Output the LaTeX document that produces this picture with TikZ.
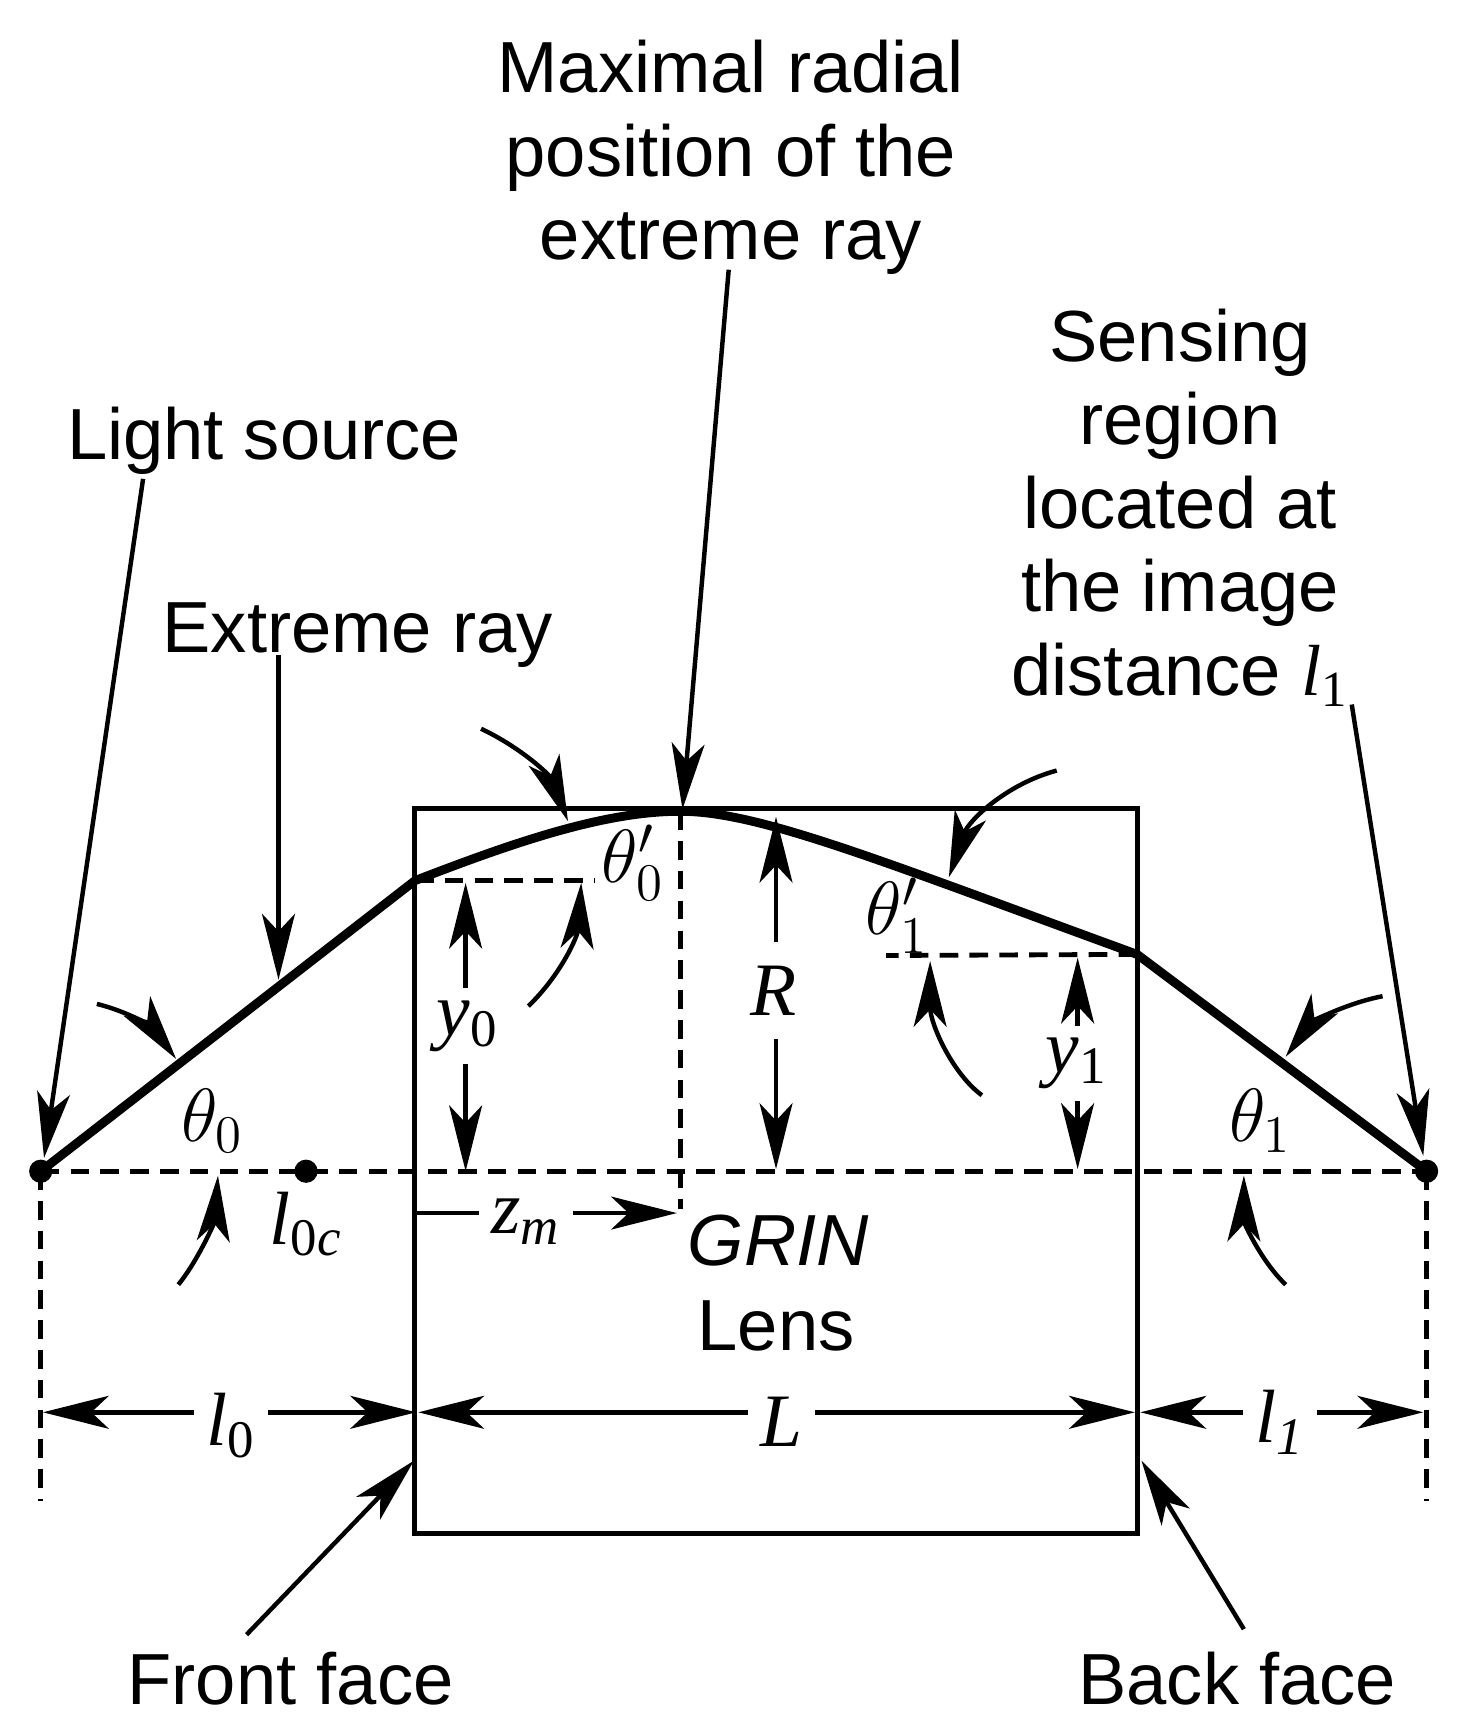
\documentclass[tikz,border=0pt]{standalone}
\usepackage{fix-cm}
\usepackage{fontspec}
\setmainfont{Liberation Sans}
\newfontfamily\symfont{Liberation Serif}
\newcommand{\lensym}[2]{{\symfont\itshape #1}\textsubscript{\symfont #2}}
\usetikzlibrary{arrows.meta}

\begin{document}
\begin{tikzpicture}[x=0.01cm,y=-0.01cm,
	label_node/.style={font=\fontsize{18.7}{21.6}\selectfont,align=center,inner sep=0pt},
	math_node/.style={font=\fontsize{19.5}{22}\selectfont,inner sep=3pt},
	dot_node/.style={circle,fill=black,minimum size=6pt,inner sep=0pt},
	thin_line/.style={line width=1.15pt},
	dash_line/.style={line width=1.25pt,dash pattern=on 4.8pt off 2.9pt},
	tip_arrow/.style={line width=1.15pt,-{Stealth[length=17pt,width=8.5pt,inset=4.5pt]}}]

		\useasboundingbox (0,0) rectangle (1337,1568);

		% lens
		\node[draw,line width=1.35pt,inner sep=0pt,minimum width=6.56cm,minimum height=6.58cm] (lens) at (705,1064) {};

		\node[dot_node] (source) at (37,1064) {};
		\node[dot_node] (focus) at (278,1064) {};
		\node[dot_node] (image) at (1296,1064) {};

		\coordinate (entry) at (377,800);
		\coordinate (peak) at (618,737);
		\coordinate (exit) at (1033,867);
		\coordinate (peak_foot) at (618,1098);
		\coordinate (source_foot) at (37,1364);
		\coordinate (image_foot) at (1296,1364);
		\coordinate (entry_end) at (540,800);
		\coordinate (exit_end) at (805,868);

		% axis and ray
		\draw[dash_line] (source.center) -- (image.center);
		\draw[dash_line] (peak) -- (peak_foot);
		\draw[dash_line] (source.center) -- (source_foot);
		\draw[dash_line] (image.center) -- (image_foot);
		\draw[dash_line] (entry) -- (entry_end);
		\draw[dash_line] (exit) -- (exit_end);
		\draw[line width=2.3pt,line join=round] (source.center) -- (entry) .. controls (470,764) and (550,737) .. (peak) .. controls (690,737) and (800,782) .. (exit) -- (image.center);

		% texts
		\node[label_node] (max_label) at (664,143) {Maximal radial\\position of the\\extreme ray};
		\node[label_node] (sense_label) at (1072,461) {Sensing\\region\\located at\\the image\\distance \lensym{l}{1}};
		\node[label_node] (light_label) at (240,400) {Light source};
		\node[label_node] (ray_label) at (325,577) {Extreme ray};
		\node[label_node] (grin_label) at (707,1127) {\itshape GRIN};
		\node[label_node] (lens_label) at (705,1205) {Lens};
		\node[label_node] (front_label) at (264,1525) {Front face};
		\node[label_node] (back_label) at (1124,1525) {Back face};

		\node[math_node] at (193,1018) (th0) {$\theta_0$};
		\node[math_node] at (575,784) (th0p) {$\theta'_0$};
		\node[math_node] at (815,832) (th1p) {$\theta'_1$};
		\node[math_node] at (1145,1018) (th1) {$\theta_1$};
		\node[math_node] at (278,1112) (l0c) {\lensym{l}{0\itshape c}};
		\node[math_node] at (478,1110) (zm) {\lensym{z}{\itshape m}};
		\node[math_node] at (425,932) (y0) {\lensym{y}{0}};
		\node[math_node,inner ysep=6pt] at (703,900) (R) {{\symfont\itshape R}};
		\node[math_node] at (978,966) (y1) {\lensym{y}{1}};
		\node[math_node] at (210,1295) (l0) {\lensym{l}{0}};
		\node[math_node] at (710,1292) (L) {{\symfont\itshape L}};
		\node[math_node] at (1163,1292) (l1) {\lensym{l}{\itshape 1}};

		% dimension tips
		\coordinate (y0_top) at (423,802);
		\coordinate (y0_bot) at (423,1064);
		\coordinate (R_top) at (705,742);
		\coordinate (R_bot) at (705,1062);
		\coordinate (y1_top) at (979,870);
		\coordinate (y1_bot) at (979,1062);
		\coordinate (zm_a) at (379,1102);
		\coordinate (zm_b) at (615,1102);
		\coordinate (l0_a) at (39,1283);
		\coordinate (l0_b) at (378,1283);
		\coordinate (L_a) at (380,1283);
		\coordinate (L_b) at (1031,1283);
		\coordinate (l1_a) at (1036,1283);
		\coordinate (l1_b) at (1293,1283);

		\draw[tip_arrow] (y0.north -| y0_top) -- (y0_top);
		\draw[tip_arrow] (y0.south -| y0_bot) -- (y0_bot);
		\draw[tip_arrow] (R.north -| R_top) -- (R_top);
		\draw[tip_arrow] (R.south -| R_bot) -- (R_bot);
		\draw[tip_arrow] (y1.north -| y1_top) -- (y1_top);
		\draw[tip_arrow] (y1.south -| y1_bot) -- (y1_bot);
		\draw[thin_line] (zm.west |- zm_a) -- (zm_a);
		\draw[tip_arrow] (zm.east |- zm_b) -- (zm_b);
		\draw[tip_arrow] (l0.west |- l0_a) -- (l0_a);
		\draw[tip_arrow] (l0.east |- l0_b) -- (l0_b);
		\draw[tip_arrow] (L.west |- L_a) -- (L_a);
		\draw[tip_arrow] (L.east |- L_b) -- (L_b);
		\draw[tip_arrow] (l1.west |- l1_a) -- (l1_a);
		\draw[tip_arrow] (l1.east |- l1_b) -- (l1_b);

		% leaders
		\coordinate (light_from) at (130,435);
		\coordinate (light_to) at (40,1052);
		\coordinate (ray_from) at (253,595);
		\coordinate (ray_to) at (253,890);
		\coordinate (max_from) at (662,245);
		\coordinate (max_to) at (620,735);
		\coordinate (sense_from) at (1228,640);
		\coordinate (sense_to) at (1293,1050);
		\coordinate (front_from) at (224,1485);
		\coordinate (front_to) at (376,1327);
		\coordinate (back_from) at (1130,1480);
		\coordinate (back_to) at (1037,1327);

		\draw[tip_arrow] (light_from) -- (light_to);
		\draw[tip_arrow] (ray_from) -- (ray_to);
		\draw[tip_arrow] (max_from) -- (max_to);
		\draw[tip_arrow] (sense_from) -- (sense_to);
		\draw[tip_arrow] (front_from) -- (front_to);
		\draw[tip_arrow] (back_from) -- (back_to);

		% angle arrows
		\draw[tip_arrow] (437,662) .. controls (475,680) and (500,705) .. (516,746);
		\draw[tip_arrow] (960,700) .. controls (915,712) and (880,745) .. (862,797);
		\draw[tip_arrow] (88,912) .. controls (120,920) and (140,935) .. (160,962);
		\draw[tip_arrow] (1256,905) .. controls (1220,912) and (1190,930) .. (1168,960);
		\draw[tip_arrow] (480,914) .. controls (510,885) and (525,850) .. (528,802);
		\draw[tip_arrow] (892,995) .. controls (865,975) and (845,930) .. (845,873);
		\draw[tip_arrow] (162,1167) .. controls (180,1145) and (195,1110) .. (198,1068);
		\draw[tip_arrow] (1168,1167) .. controls (1145,1145) and (1130,1110) .. (1130,1068);
\end{tikzpicture}
\end{document}
